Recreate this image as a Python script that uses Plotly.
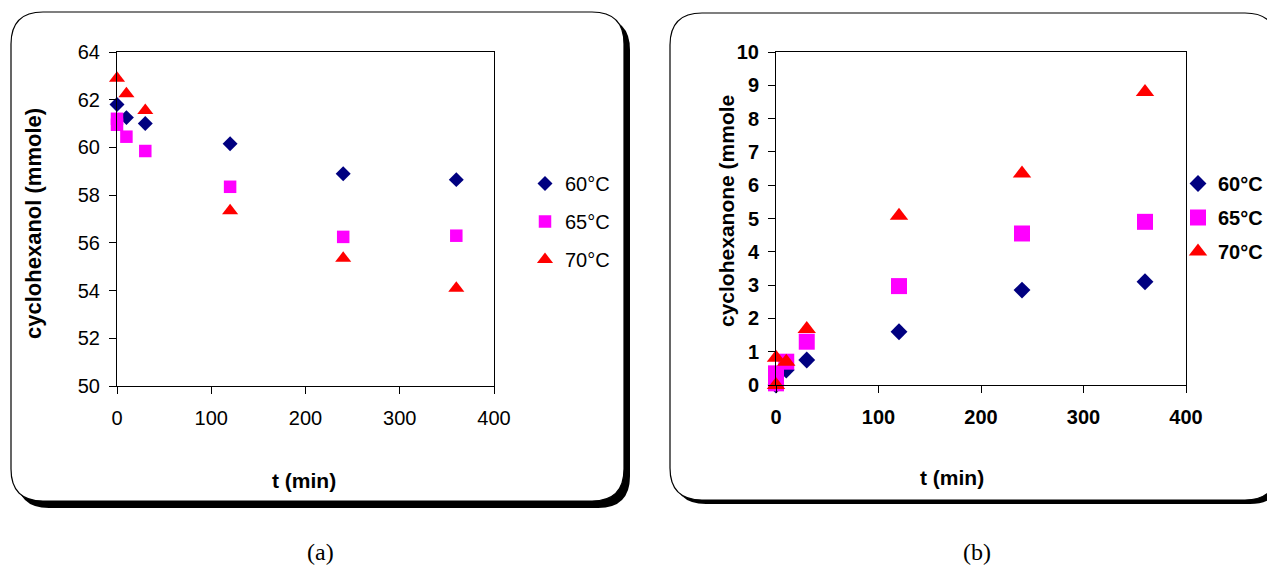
import plotly.graph_objects as go

W, H = 1275, 571
OFF = 8  # page body margin compensation

# ---------- data ----------
series_names = ["60°C", "65°C", "70°C"]

# (a) cyclohexanol
a_t60 = [0, 10, 30, 120, 240, 360]
a_y60 = [61.8, 61.25, 61.0, 60.15, 58.9, 58.65]
a_t65 = [0, 0, 10, 30, 120, 240, 360]
a_y65 = [61.2, 60.95, 60.45, 59.85, 58.35, 56.25, 56.3]
a_t70 = [0, 10, 30, 120, 240, 360]
a_y70 = [62.9, 62.25, 61.55, 57.35, 55.35, 54.1]

# (b) cyclohexanone
b_t60 = [0, 10, 30, 120, 240, 360]
b_y60 = [0.0, 0.45, 0.75, 1.6, 2.85, 3.1]
b_t65 = [0, 0, 10, 30, 120, 240, 360]
b_y65 = [0.35, 0.05, 0.7, 1.3, 2.97, 4.55, 4.9]
b_t70 = [0, 0, 10, 30, 120, 240, 360]
b_y70 = [0.0, 0.82, 0.7, 1.68, 5.08, 6.35, 8.8]

x_ticks = [0, 100, 200, 300, 400]
a_y_ticks = [50, 52, 54, 56, 58, 60, 62, 64]
b_y_ticks = list(range(0, 11))

colors = ["#000080", "#FF00FF", "#FF0000"]
symbols = ["diamond", "square", "triangle-up"]

FONT = "Liberation Sans, Arial, sans-serif"
SERIF = "Liberation Serif, Times New Roman, serif"

def px(x):
    return (x - OFF) / W

def py(y):
    return 1 - (y - OFF) / H

fig = go.Figure()

a_data = [(a_t60, a_y60), (a_t65, a_y65), (a_t70, a_y70)]
b_data = [(b_t60, b_y60), (b_t65, b_y65), (b_t70, b_y70)]
a_sizes = [11.5, 12.5, 14]
b_sizes = [13, 16, 16]

for i, (t, y) in enumerate(a_data):
    fig.add_trace(go.Scatter(
        x=t, y=y, mode="markers", name=series_names[i],
        marker=dict(symbol=symbols[i], color=colors[i], size=a_sizes[i], line=dict(width=0)),
        xaxis="x", yaxis="y", legend="legend", legendgroup="a%d" % i,
        cliponaxis=False,
    ))
for i, (t, y) in enumerate(b_data):
    fig.add_trace(go.Scatter(
        x=t, y=y, mode="markers", name=series_names[i],
        marker=dict(symbol=symbols[i], color=colors[i], size=b_sizes[i], line=dict(width=0)),
        xaxis="x2", yaxis="y2", legend="legend2", legendgroup="b%d" % i,
        cliponaxis=False,
    ))

def axis_common(bold, standoff):
    return dict(
        showgrid=False, zeroline=False, showline=True, linecolor="black", linewidth=1,
        mirror=True, ticks="outside", ticklen=7, tickcolor="black", tickwidth=1,
        automargin=False, ticklabelstandoff=standoff,
        tickfont=dict(family=FONT, size=20, color="black", weight="bold" if bold else "normal"),
    )

fig.update_layout(
    width=W, height=H,
    margin=dict(l=0, r=0, t=0, b=0, pad=0, autoexpand=False),
    paper_bgcolor="white", plot_bgcolor="white",
    xaxis=dict(domain=[px(117), px(494)], range=[0, 400], tickvals=x_ticks,
               anchor="y", **axis_common(False, 7)),
    yaxis=dict(domain=[py(386), py(52)], range=[50, 64], tickvals=a_y_ticks,
               anchor="x", **axis_common(False, 5)),
    xaxis2=dict(domain=[px(776), px(1186)], range=[0, 400], tickvals=x_ticks,
                anchor="y2", **axis_common(True, 7)),
    yaxis2=dict(domain=[py(385), py(52)], range=[0, 10], tickvals=b_y_ticks,
                anchor="x2", **axis_common(True, 5)),
    legend=dict(x=px(525), y=py(164), xanchor="left", yanchor="top",
                bgcolor="rgba(0,0,0,0)", tracegroupgap=9,
                font=dict(family=FONT, size=20, color="black")),
    legend2=dict(x=px(1178), y=py(164), xanchor="left", yanchor="top",
                 bgcolor="rgba(0,0,0,0)", tracegroupgap=5,
                 font=dict(family=FONT, size=20, color="black", weight="bold")),
)

def rrect(x0, y0, x1, y1, r):
    # rounded rectangle path in paper coords from pixel coords (top-left origin)
    pts = [
        ("M", [(x0 + r, y0)]),
        ("L", [(x1 - r, y0)]),
        ("Q", [(x1, y0), (x1, y0 + r)]),
        ("L", [(x1, y1 - r)]),
        ("Q", [(x1, y1), (x1 - r, y1)]),
        ("L", [(x0 + r, y1)]),
        ("Q", [(x0, y1), (x0, y1 - r)]),
        ("L", [(x0, y0 + r)]),
        ("Q", [(x0, y0), (x0 + r, y0)]),
    ]
    s = ""
    for cmd, ps in pts:
        s += cmd + " " + " ".join("%.6f,%.6f" % (px(a), py(b)) for a, b in ps) + " "
    return s + "Z"

shapes = []
# left panel box with shadow
shapes.append(dict(type="path", path=rrect(17, 18, 630, 508, 32), xref="paper", yref="paper",
                   fillcolor="black", line=dict(width=0), layer="below"))
shapes.append(dict(type="path", path=rrect(11, 12, 624, 501, 32), xref="paper", yref="paper",
                   fillcolor="white", line=dict(color="black", width=1.2), layer="below"))
# right panel box with shadow
shapes.append(dict(type="path", path=rrect(674, 17, 1282, 504, 32), xref="paper", yref="paper",
                   fillcolor="black", line=dict(width=0), layer="below"))
shapes.append(dict(type="path", path=rrect(670, 13, 1277, 500, 32), xref="paper", yref="paper",
                   fillcolor="white", line=dict(color="black", width=1.2), layer="below"))
fig.update_layout(shapes=shapes)

def label(text, x, y, size, family=FONT, bold=True, angle=0):
    return dict(text=text, x=px(x), y=py(y), xref="paper", yref="paper",
                xanchor="center", yanchor="middle", showarrow=False, textangle=angle,
                font=dict(family=family, size=size, color="black",
                          weight="bold" if bold else "normal"))

ann = [
    label("cyclohexanol (mmole)", 34, 224, 22, angle=-90),
    label("t (min)", 304, 480, 21),
    label("cyclohexanone (mmole", 726, 211, 21, angle=-90),
    label("t (min)", 952, 477, 21),
    label("(a)", 320, 552, 24, family=SERIF, bold=False),
    label("(b)", 977, 552, 24, family=SERIF, bold=False),
]
fig.update_layout(annotations=ann)

fig.write_html("out.html")
